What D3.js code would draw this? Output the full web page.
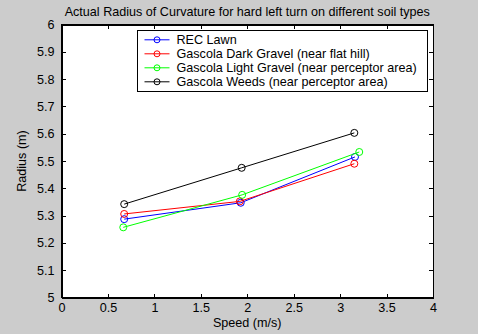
<!DOCTYPE html>
<html><head><meta charset="utf-8">
<script src="https://cdn.jsdelivr.net/npm/d3@7"></script>
<style>body{margin:0;background:#ccc;} svg{display:block;} text{font-family:"Liberation Sans",Arial,sans-serif;}</style>
</head><body>
<svg id="c" width="478" height="334"></svg>
<script>
const seriesNames = ["REC Lawn","Gascola Dark Gravel (near flat hill)","Gascola Light Gravel (near perceptor area)","Gascola Weeds (near perceptor area)"];
const seriesColors = ["#0000ff","#ff0000","#00ff00","#000000"];
const recLawnX = [0.675, 1.93, 3.16];
const recLawnY = [5.287, 5.347, 5.515];
const darkGravelX = [0.675, 1.92, 3.153];
const darkGravelY = [5.306, 5.352, 5.490];
const lightGravelX = [0.665, 1.945, 3.206];
const lightGravelY = [5.257, 5.376, 5.533];
const weedsX = [0.675, 1.94, 3.153];
const weedsY = [5.342, 5.475, 5.603];
const xTicks = [0,0.5,1,1.5,2,2.5,3,3.5,4];
const yTicks = [5,5.1,5.2,5.3,5.4,5.5,5.6,5.7,5.8,5.9,6];
const titleText = "Actual Radius of Curvature for hard left turn on different soil types";
const xLabel = "Speed (m/s)";
const yLabel = "Radius (m)";

const series = [
  {x: recLawnX, y: recLawnY},
  {x: darkGravelX, y: darkGravelY},
  {x: lightGravelX, y: lightGravelY},
  {x: weedsX, y: weedsY}
];

const L=61.5, R=433, T=24.5, B=297.5;
const svg = d3.select("#c");
svg.append("rect").attr("width",478).attr("height",334).attr("fill","#cccccc");
const x = d3.scaleLinear().domain([0,4]).range([L,R]);
const y = d3.scaleLinear().domain([5,6]).range([B,T]);
svg.append("rect").attr("x",L).attr("y",T).attr("width",R-L).attr("height",B-T).attr("fill","#fff");

const fmt = d => String(+d.toFixed(1));
const fs = "12.6px";
const xb = svg.append("g").attr("transform",`translate(0,${B})`).call(d3.axisBottom(x).tickValues(xTicks).tickFormat(fmt).tickSizeInner(-4).tickSizeOuter(0).tickPadding(6));
const xt = svg.append("g").attr("transform",`translate(0,${T})`).call(d3.axisTop(x).tickValues(xTicks).tickFormat("").tickSizeInner(-4).tickSizeOuter(0));
const yl = svg.append("g").attr("transform",`translate(${L},0)`).call(d3.axisLeft(y).tickValues(yTicks).tickFormat(fmt).tickSizeInner(-4).tickSizeOuter(0).tickPadding(7));
const yr = svg.append("g").attr("transform",`translate(${R},0)`).call(d3.axisRight(y).tickValues(yTicks).tickFormat("").tickSizeInner(-4).tickSizeOuter(0));
[xb,xt,yl,yr].forEach(g=>{
  g.selectAll("path").attr("stroke","#000").attr("shape-rendering","crispEdges");
  g.selectAll("line").attr("stroke","#000").attr("shape-rendering","crispEdges");
  g.selectAll("text").attr("font-size",fs).attr("font-family","Liberation Sans, Arial, sans-serif").attr("fill","#000");
});
svg.append("rect").attr("x",L).attr("y",T).attr("width",R-L).attr("height",B-T).attr("fill","none").attr("stroke","#000").attr("shape-rendering","crispEdges");

const line = d3.line();
series.forEach((s,i)=>{
  const pts = s.x.map((v,j)=>[x(v), y(s.y[j])]);
  svg.append("path").attr("d",line(pts)).attr("fill","none").attr("stroke",seriesColors[i]).attr("stroke-width",1);
  svg.selectAll(null).data(pts).enter().append("circle").attr("cx",d=>d[0]).attr("cy",d=>d[1]).attr("r",3.5).attr("fill","none").attr("stroke",seriesColors[i]).attr("stroke-width",1);
});

// legend
const lg = svg.append("g");
lg.append("rect").attr("x",137.5).attr("y",30.5).attr("width",290).attr("height",61).attr("fill","#fff").attr("stroke","#000").attr("shape-rendering","crispEdges");
seriesNames.forEach((n,i)=>{
  const yy = 39.8 + i*14;
  lg.append("line").attr("x1",144.5).attr("x2",169.5).attr("y1",yy).attr("y2",yy).attr("stroke",seriesColors[i]);
  lg.append("circle").attr("cx",157).attr("cy",yy).attr("r",3).attr("fill","none").attr("stroke",seriesColors[i]);
  lg.append("text").attr("x",176.5).attr("y",yy+4.6).attr("font-size",fs).text(n);
});

svg.append("text").attr("x",(L+R)/2).attr("y",15.5).attr("text-anchor","middle").attr("font-size",fs).text(titleText);
svg.append("text").attr("x",(L+R)/2).attr("y",327).attr("text-anchor","middle").attr("font-size",fs).text(xLabel);
svg.append("text").attr("transform",`translate(26,${(T+B)/2}) rotate(-90)`).attr("text-anchor","middle").attr("font-size",fs).text(yLabel);
</script>
</body></html>
